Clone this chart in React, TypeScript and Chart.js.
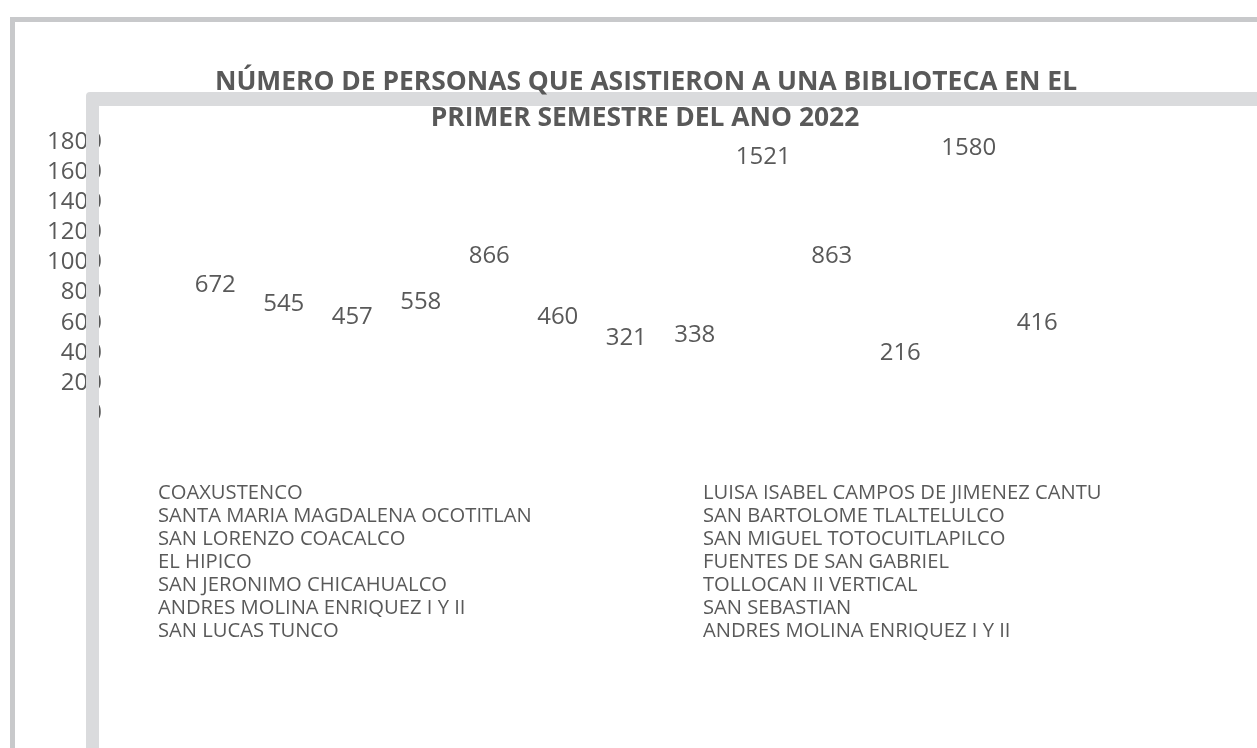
import React, { useEffect, useRef } from "react";
import { Chart, registerables } from "chart.js";

Chart.register(...registerables);

const titleLines = [
  "NÚMERO DE PERSONAS QUE ASISTIERON A UNA BIBLIOTECA EN EL",
  "PRIMER SEMESTRE DEL ANO 2022",
];

const categories = [
  "COAXUSTENCO",
  "SANTA MARIA MAGDALENA OCOTITLAN",
  "SAN LORENZO COACALCO",
  "EL HIPICO",
  "SAN JERONIMO CHICAHUALCO",
  "ANDRES MOLINA ENRIQUEZ I Y II",
  "SAN LUCAS TUNCO",
  "LUISA ISABEL CAMPOS DE JIMENEZ CANTU",
  "SAN BARTOLOME TLALTELULCO",
  "SAN MIGUEL TOTOCUITLAPILCO",
  "FUENTES DE SAN GABRIEL",
  "TOLLOCAN II VERTICAL",
  "SAN SEBASTIAN",
  "ANDRES MOLINA ENRIQUEZ I Y II",
];

const visitors: (number | null)[] = [
  672, 545, 457, 558, 866, 460, 321, 338, 1521, 863, 216, 1580, 416, null,
];

const yMin = 0;
const yMax = 1800;
const yStep = 200;

const TEXT = "#595959";
const FONT = "'Open Sans', 'Noto Sans', sans-serif";

const dataLabelPlugin = {
  id: "dataLabels",
  afterDatasetsDraw(chart: any) {
    const ctx = chart.ctx;
    const meta = chart.getDatasetMeta(0);
    const data = chart.data.datasets[0].data;
    ctx.save();
    ctx.fillStyle = TEXT;
    ctx.font = `24px ${FONT}`;
    ctx.textAlign = "center";
    ctx.textBaseline = "alphabetic";
    meta.data.forEach((el: any, i: number) => {
      const v = data[i];
      if (v === null || v === undefined) return;
      ctx.fillText(String(v), el.x, el.y - 20);
    });
    ctx.restore();
  },
};

const decorPlugin = {
  id: "decor",
  afterDraw(chart: any) {
    const ctx = chart.ctx;
    ctx.save();
    // outer frame
    ctx.fillStyle = "#c8c9cb";
    ctx.fillRect(10, 17, 1400, 5);
    ctx.fillRect(10, 17, 5, 900);
    // inner frame
    ctx.fillStyle = "#dadbdd";
    ctx.beginPath();
    ctx.roundRect(86, 92, 1400, 900, 4);
    ctx.rect(99, 106, 1400, 900);
    ctx.fill("evenodd");
    // title
    ctx.fillStyle = TEXT;
    ctx.font = `bold 26.4px ${FONT}`;
    ctx.textAlign = "center";
    ctx.textBaseline = "alphabetic";
    ctx.fillText(titleLines[0], 646, 90);
    ctx.fillText(titleLines[1], 645, 126);
    // legend (two columns)
    ctx.font = `20.2px ${FONT}`;
    ctx.textAlign = "left";
    const labels: string[] = chart.data.labels;
    const perCol = Math.ceil(labels.length / 2);
    labels.forEach((lab, i) => {
      const col = Math.floor(i / perCol);
      const row = i % perCol;
      ctx.fillText(lab, col === 0 ? 158 : 703, 499 + row * 23);
    });
    ctx.restore();
  },
};

export default function App() {
  const ref = useRef<HTMLCanvasElement | null>(null);
  useEffect(() => {
    if (!ref.current) return;
    const chart = new Chart(ref.current, {
      type: "bar",
      data: {
        labels: categories,
        datasets: [
          {
            data: visitors,
            backgroundColor: "rgba(0,0,0,0)",
            borderWidth: 0,
          },
        ],
      },
      options: {
        responsive: false,
        animation: false,
        events: [],
        layout: { padding: { left: 46, top: 142, right: 117, bottom: 335 } },
        plugins: {
          legend: { display: false },
          title: { display: false },
          tooltip: { enabled: false },
        },
        scales: {
          x: { display: false },
          y: {
            min: yMin,
            max: yMax,
            afterFit: (scale: any) => {
              scale.width = 135;
            },
            grid: { display: false, drawTicks: false },
            border: { display: false },
            ticks: {
              stepSize: yStep,
              autoSkip: false,
              padding: 79,
              color: TEXT,
              font: { family: FONT, size: 24 },
              callback: (v: any) => String(v),
            },
          },
        },
      },
      plugins: [dataLabelPlugin, decorPlugin],
    });
    return () => chart.destroy();
  }, []);
  return (
    <canvas
      ref={ref}
      width={1257}
      height={748}
      style={{ position: "fixed", left: 0, top: 0, display: "block", background: "#fff" }}
    />
  );
}
